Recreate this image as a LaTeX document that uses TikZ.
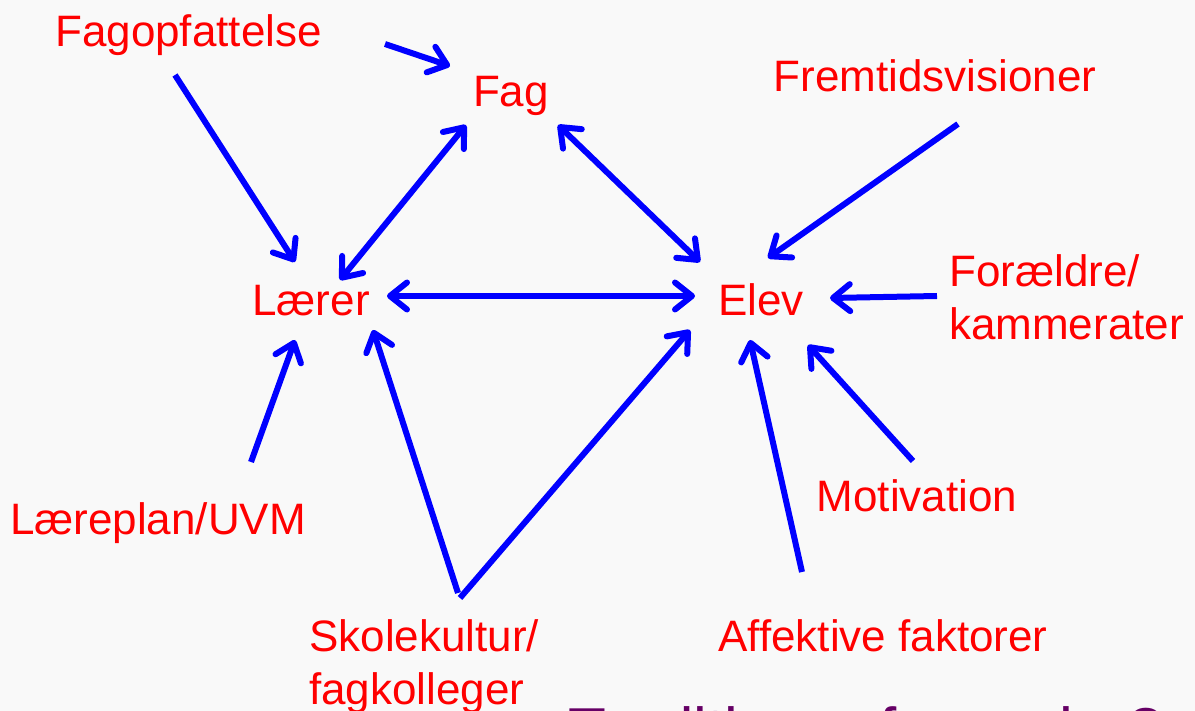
\documentclass[tikz,border=0pt]{standalone}
\usepackage{fontspec}
\setmainfont{Liberation Sans}
\usetikzlibrary{arrows.meta}
\definecolor{lblred}{RGB}{255,0,0}
\definecolor{arrblue}{RGB}{0,0,255}
\definecolor{titlepurple}{RGB}{102,0,102}
\definecolor{bgcol}{RGB}{249,249,249}
\begin{document}
\begin{tikzpicture}[x=1pt,y=-1pt,
  lbl/.style={text=lblred, font=\fontsize{44}{53}\selectfont, inner sep=0pt},
  ttl/.style={text=titlepurple, font=\fontsize{62}{70}\selectfont, inner sep=0pt},
  barb/.tip={Straight Barb[length=17pt,width=27pt,round]},
  arr/.style={draw=arrblue, line width=6pt, -barb},
  biarr/.style={draw=arrblue, line width=6pt, barb-barb}
]
\useasboundingbox (0,0) rectangle (1195,711);
\clip (0,0) rectangle (1195,711);
\fill[bgcol] (0,0) rectangle (1195,711);

% labels
\node[lbl, anchor=base] (fagopf) at (188.5,47) {Fagopfattelse};
\node[lbl, anchor=base] (fag) at (511,107) {Fag};
\node[lbl, anchor=base] (frem) at (935,92) {Fremtidsvisioner};
\node[lbl, anchor=base] (lar) at (311,316) {Lærer};
\node[lbl, anchor=base] (elev) at (761,316) {Elev};
\node[lbl, anchor=base west] (foraeld) at (949,287) {\vtop{\hbox{Forældre/}\hbox{kammerater}}};
\node[lbl, anchor=base] (laerepl) at (158,534) {Læreplan/UVM};
\node[lbl, anchor=base] (motiv) at (917,511) {Motivation};
\node[lbl, anchor=base west] (skole) at (309,651) {\vtop{\hbox{Skolekultur/}\hbox{fagkolleger}}};
\node[lbl, anchor=base] (affekt) at (883,651) {Affektive faktorer};
\node[ttl, anchor=base west] (title) at (568.6,751) {Traditioner for regler?};

% connectors
\draw[arr] ([shift={(196.5,-3)}]fagopf.base) -- ([shift={(-61,-41)}]fag.base);
\draw[arr] ([shift={(-13.5,28)}]fagopf.base) -- ([shift={(-16,-54)}]lar.base);
\draw[biarr] ([shift={(29,-36)}]lar.base) -- ([shift={(-45,18)}]fag.base);
\draw[biarr] ([shift={(47,18)}]fag.base) -- ([shift={(-61,-54)}]elev.base);
\draw[biarr] ([shift={(76,-20)}]lar.base) -- ([shift={(-66,-20)}]elev.base);
\draw[arr] ([shift={(23,32)}]frem.base) -- ([shift={(7,-58)}]elev.base);
\draw[arr] ([shift={(-12,9)}]foraeld.base west) -- ([shift={(69,-18)}]elev.base);
\draw[arr] ([shift={(93,-72)}]laerepl.base) -- ([shift={(-16,24)}]lar.base);
\draw[arr] ([shift={(149,-58)}]skole.base west) -- ([shift={(62,14)}]lar.base);
\draw[arr] ([shift={(151,-53)}]skole.base west) -- ([shift={(-71,14)}]elev.base);
\draw[arr] ([shift={(-4,-50)}]motiv.base) -- ([shift={(47,29)}]elev.base);
\draw[arr] ([shift={(-81,-79)}]affekt.base) -- ([shift={(-11,24)}]elev.base);
\end{tikzpicture}
\end{document}
